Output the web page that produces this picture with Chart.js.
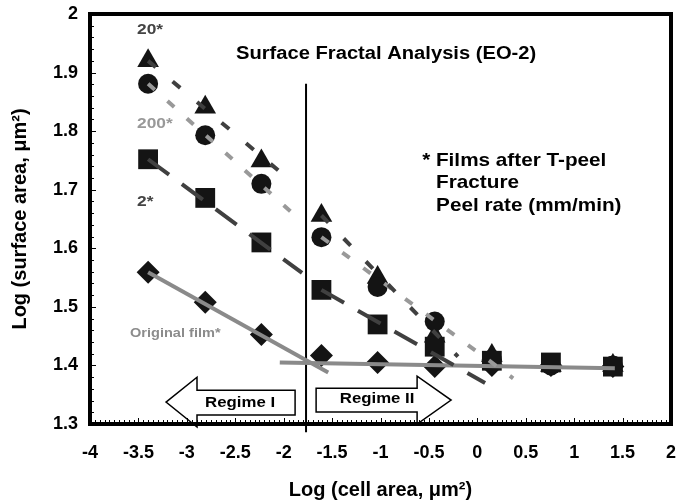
<!DOCTYPE html>
<html lang="en">
<head>
<meta charset="UTF-8">
<title>Surface Fractal Analysis</title>
<script src="https://cdn.jsdelivr.net/npm/chart.js@4.4.0/dist/chart.umd.min.js"></script>
<style>
  body { margin: 0; background: #fff; }
  canvas { display: block; }
</style>
</head>
<body>
<canvas id="fractal" width="677" height="504"></canvas>
<script>
// log cell area (x) shared by all series
const cellArea = [-3.40, -2.81, -2.23, -1.61, -1.03, -0.44, 0.15, 0.76, 1.40];
// log surface area, one array per peel rate
const rate20 = [1.920, 1.841, 1.749, 1.656, 1.550, 1.450, 1.417, 1.400, 1.400];
const rate200 = [1.881, 1.793, 1.710, 1.619, 1.534, 1.475, 1.410, 1.400, 1.400];
const rate2 = [1.752, 1.686, 1.610, 1.529, 1.470, 1.432, 1.408, 1.405, 1.398];
const original = [1.559, 1.508, 1.453, 1.417, 1.405, 1.398, 1.400, 1.400, 1.398];

// fitted lines, [x0, x1] and [y0, y1]
const fit20I = [[-3.40, -1.89], [1.920, 1.710]];
const fit20II = [[-1.61, -0.20], [1.656, 1.415]];
const fit200I = [[-3.40, -1.82], [1.881, 1.647]];
const fit200II = [[-1.61, 0.37], [1.619, 1.378]];
const fit2I = [[-3.40, -1.81], [1.752, 1.558]];
const fit2II = [[-1.61, 0.08], [1.529, 1.370]];
const fitOrigI = [[-3.40, -1.54], [1.559, 1.388]];
const fitOrigII = [[-2.04, 1.42], [1.405, 1.395]];

const xTicks = [-4, 2, 0.5];
const yTicks = [1.3, 2, 0.1];
const regimeBoundary = -1.769;

const FONT = 'Liberation Sans, Arial, sans-serif';

function pts(xs, ys) {
    return xs.map((x, i) => ({ x: x, y: ys[i] }));
}

function markers(label, ys, style, r, order) {
    return {
        label: label,
        data: pts(cellArea, ys),
        pointStyle: style,
        pointRadius: r,
        pointHoverRadius: r,
        backgroundColor: '#141414',
        borderColor: '#141414',
        borderWidth: 0,
        showLine: false,
        order: order
    };
}

function fitLine(f, color, dash) {
    return {
        data: pts(f[0], f[1]),
        showLine: true,
        pointRadius: 0,
        borderColor: color,
        borderWidth: 4,
        borderDash: dash,
        borderCapStyle: 'butt',
        fill: false,
        order: 0
    };
}

// annotation drawing: boundary line, regime arrows, labels, frame and minor ticks
const decor = {
    id: 'decor',
    afterLayout(chart) {
        // the plot runs right up to the canvas edge; chart.js keeps room for the last label
        const x = chart.scales.x, a = chart.chartArea;
        const right = chart.width - 6;
        x.right = right;
        x.width = right - x.left;
        x.configure();
        a.right = right;
        a.width = right - a.left;
    },
    beforeDatasetsDraw(chart) {
        const { ctx, scales: { x, y } } = chart;
        ctx.save();
        ctx.strokeStyle = '#000';
        ctx.lineWidth = 2;
        ctx.beginPath();
        ctx.moveTo(x.getPixelForValue(regimeBoundary), y.getPixelForValue(1.881));
        ctx.lineTo(x.getPixelForValue(regimeBoundary), y.getPixelForValue(1.286));
        ctx.stroke();
        ctx.restore();
    },
    afterDatasetsDraw(chart) {
        const { ctx, chartArea: a, scales: { x, y } } = chart;
        const px = v => x.getPixelForValue(v);
        const py = v => y.getPixelForValue(v);
        ctx.save();

        // arrows
        function arrow(p) {
            ctx.beginPath();
            p.forEach((q, i) => {
                if (i === 0) ctx.moveTo(px(q[0]), py(q[1]));
                else ctx.lineTo(px(q[0]), py(q[1]));
            });
            ctx.closePath();
            ctx.fillStyle = '#fff';
            ctx.fill();
            ctx.strokeStyle = '#000';
            ctx.lineWidth = 1.5;
            ctx.stroke();
        }
        arrow([[-3.215, 1.3374], [-2.895, 1.3799], [-2.895, 1.3578], [-1.882, 1.3578],
               [-1.882, 1.3153], [-2.895, 1.3153], [-2.895, 1.2949]]);
        arrow([[-1.665, 1.3612], [-0.622, 1.3612], [-0.622, 1.3816], [-0.271, 1.3408],
               [-0.622, 1.300], [-0.622, 1.3204], [-1.665, 1.3204]]);

        // text is a little wider than plain Arial in the original
        function text(s, vx, vy, size, color, align) {
            ctx.save();
            ctx.font = 'bold ' + size + 'px ' + FONT;
            ctx.fillStyle = color;
            ctx.textAlign = align;
            ctx.textBaseline = 'middle';
            ctx.translate(px(vx), py(vy));
            ctx.scale(1.12, 1);
            ctx.fillText(s, 0, 0);
            ctx.restore();
        }
        text('Regime I', -2.45, 1.3357, 15, '#000', 'center');
        text('Regime II', -1.035, 1.3425, 15, '#000', 'center');
        text('Surface Fractal Analysis (EO-2)', -0.942, 1.932, 18, '#000', 'center');
        text('* Films after T-peel', -0.570, 1.749, 18.5, '#000', 'left');
        text('Fracture', -0.426, 1.711, 18.5, '#000', 'left');
        text('Peel rate (mm/min)', -0.426, 1.672, 18.5, '#000', 'left');
        text('20*', -3.514, 1.973, 15.5, '#444', 'left');
        text('200*', -3.514, 1.813, 15.5, '#999', 'left');
        text('2*', -3.514, 1.679, 15.5, '#444', 'left');
        text('Original film*', -3.587, 1.4546, 13, '#8c8c8c', 'left');

        // minor ticks pointing inward
        ctx.strokeStyle = '#000';
        ctx.lineWidth = 1;
        ctx.beginPath();
        for (let i = 1; i < 120; i++) {
            const xx = Math.round(px(xTicks[0] + i * 0.05)) + 0.5;
            const len = i % 10 === 0 ? 6 : 4;
            ctx.moveTo(xx, a.bottom);
            ctx.lineTo(xx, a.bottom - len);
        }
        for (let i = 1; i < 35; i++) {
            const yy = Math.round(py(yTicks[0] + i * 0.02)) + 0.5;
            const len = i % 5 === 0 ? 6 : 4;
            ctx.moveTo(a.left, yy);
            ctx.lineTo(a.left + len, yy);
        }
        ctx.stroke();

        // frame
        ctx.lineWidth = 4;
        ctx.strokeRect(a.left, a.top, a.right - a.left, a.bottom - a.top);
        ctx.restore();
    }
};

function noPad(s) {
    s.paddingTop = 0;
    s.paddingBottom = 0;
    s.paddingLeft = 0;
    s.paddingRight = 0;
}

new Chart(document.getElementById('fractal'), {
    type: 'scatter',
    data: {
        datasets: [
            fitLine(fit20I, '#404040', [10, 22]),
            fitLine(fit20II, '#404040', [10, 22]),
            fitLine(fit200I, '#999999', [9, 17]),
            fitLine(fit200II, '#999999', [9, 17]),
            fitLine(fit2I, '#404040', [26, 16]),
            fitLine(fit2II, '#404040', [26, 16]),
            fitLine(fitOrigI, '#8a8a8a', []),
            fitLine(fitOrigII, '#8a8a8a', []),
            markers('2', rate2, 'rect', 14, 1),
            markers('200', rate200, 'circle', 10, 2),
            markers('20', rate20, 'triangle', 12.5, 3),
            markers('Original film', original, 'rectRot', 11.5, 4)
        ]
    },
    options: {
        responsive: false,
        animation: false,
        layout: { padding: { top: 12, right: 6, left: 0, bottom: 0 } },
        plugins: {
            legend: { display: false },
            tooltip: { enabled: false }
        },
        scales: {
            x: {
                type: 'linear',
                min: xTicks[0],
                max: xTicks[1],
                afterFit: s => { s.height = 80; noPad(s); },
                grid: { display: false, drawTicks: false },
                border: { display: false },
                ticks: {
                    stepSize: xTicks[2],
                    color: '#000',
                    padding: 18,
                    font: { family: FONT, size: 18, weight: 'bold' },
                    callback: v => String(Number(v.toFixed(1)))
                },
                title: {
                    display: true,
                    text: 'Log (cell area, μm²)',
                    color: '#000',
                    padding: { top: 0, bottom: 2 },
                    font: { family: FONT, size: 20, weight: 'bold' }
                }
            },
            y: {
                type: 'linear',
                min: yTicks[0],
                max: yTicks[1],
                afterFit: s => { s.width = 90; noPad(s); },
                grid: { display: false, drawTicks: false },
                border: { display: false },
                ticks: {
                    stepSize: yTicks[2],
                    color: '#000',
                    padding: 12,
                    font: { family: FONT, size: 18, weight: 'bold' },
                    callback: v => String(Number(v.toFixed(1)))
                },
                title: {
                    display: true,
                    text: 'Log (surface area, μm²)',
                    color: '#000',
                    padding: { top: 8, bottom: 0 },
                    font: { family: FONT, size: 20, weight: 'bold' }
                }
            }
        }
    },
    plugins: [decor]
});
</script>
</body>
</html>
